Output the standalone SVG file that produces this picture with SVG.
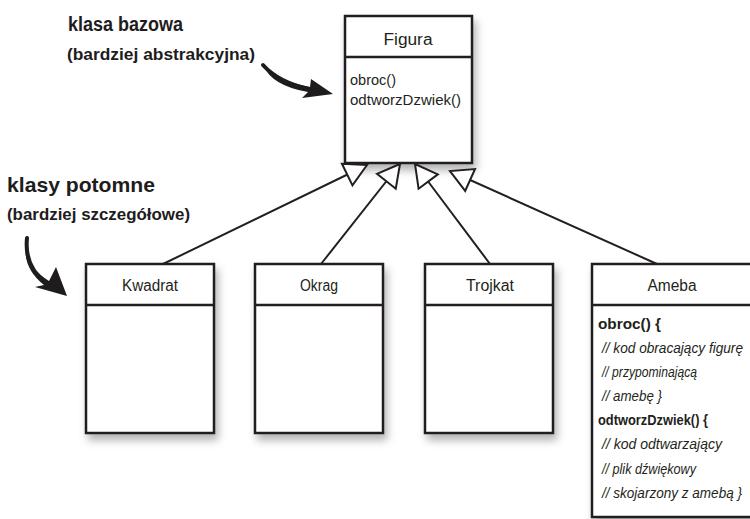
<svg xmlns="http://www.w3.org/2000/svg" width="750" height="519" viewBox="0 0 750 519">
<style>
.box{fill:#fff;stroke:#231f20;stroke-width:2.5}
.sep{stroke:#231f20;stroke-width:2.5}
.t{font-family:"Liberation Sans",Arial,sans-serif;fill:#231f20}
.title{font-size:16px;text-anchor:middle}
.m{font-size:15px}
.a{font-size:14px}
.b{font-weight:bold}
.i{font-style:italic}
.hand{font-family:"Liberation Sans",Arial,sans-serif;font-weight:bold;fill:#1e1c1d}
.conn{stroke:#231f20;stroke-width:2;fill:none}
.curl{stroke:#1e1c1d;fill:none;stroke-linecap:round}
</style>
<defs>
<filter id="sh" x="-20%" y="-20%" width="150%" height="150%">
<feDropShadow dx="3" dy="6" stdDeviation="4" flood-color="#000" flood-opacity="0.3"/>
</filter>
<marker id="tri" markerUnits="userSpaceOnUse" markerWidth="30" markerHeight="30" refX="22" refY="12" orient="auto" overflow="visible">
<path d="M0,0 L22,12 L0,24 Z" fill="#fff" stroke="#231f20" stroke-width="2" stroke-linejoin="miter"/>
</marker>
</defs>
<rect width="750" height="519" fill="#fff"/>

<g id="figura">
<rect class="box" x="345" y="16" width="127" height="147" filter="url(#sh)"/>
<line class="sep" x1="345" y1="57" x2="472" y2="57"/>
<text class="t title" x="408" y="45" textLength="49" lengthAdjust="spacingAndGlyphs">Figura</text>
<text class="t m" x="350" y="85" textLength="46" lengthAdjust="spacingAndGlyphs">obroc()</text>
<text class="t m" x="350" y="105" textLength="111" lengthAdjust="spacingAndGlyphs">odtworzDzwiek()</text>
</g>

<g id="kwadrat">
<rect class="box" x="86" y="264" width="128" height="169" filter="url(#sh)"/>
<line class="sep" x1="86" y1="305" x2="214" y2="305"/>
<text class="t title" x="150" y="291" textLength="56" lengthAdjust="spacingAndGlyphs">Kwadrat</text>
</g>

<g id="okrag">
<rect class="box" x="255" y="264" width="128" height="169" filter="url(#sh)"/>
<line class="sep" x1="255" y1="305" x2="383" y2="305"/>
<text class="t title" x="319" y="291" textLength="38" lengthAdjust="spacingAndGlyphs">Okrag</text>
</g>

<g id="trojkat">
<rect class="box" x="425" y="264" width="128" height="169" filter="url(#sh)"/>
<line class="sep" x1="425" y1="305" x2="553" y2="305"/>
<text class="t title" x="490" y="291" textLength="48" lengthAdjust="spacingAndGlyphs">Trojkat</text>
</g>

<g id="ameba">
<rect class="box" x="592" y="264" width="165" height="253" filter="url(#sh)"/>
<line class="sep" x1="592" y1="305" x2="757" y2="305"/>
<text class="t title" x="672" y="291" textLength="49" lengthAdjust="spacingAndGlyphs">Ameba</text>
<text class="t a b" x="598" y="329" textLength="63" lengthAdjust="spacingAndGlyphs">obroc() {</text>
<text class="t a i" x="602" y="353" textLength="141" lengthAdjust="spacingAndGlyphs">// kod obracający figurę</text>
<text class="t a i" x="602" y="377" textLength="95" lengthAdjust="spacingAndGlyphs">// przypominającą</text>
<text class="t a i" x="602" y="401" textLength="60" lengthAdjust="spacingAndGlyphs">// amebę }</text>
<text class="t a b" x="598" y="425" textLength="110" lengthAdjust="spacingAndGlyphs">odtworzDzwiek() {</text>
<text class="t a i" x="602" y="449" textLength="120" lengthAdjust="spacingAndGlyphs">// kod odtwarzający</text>
<text class="t a i" x="602" y="474" textLength="94" lengthAdjust="spacingAndGlyphs">// plik dźwiękowy</text>
<text class="t a i" x="602" y="498" textLength="140" lengthAdjust="spacingAndGlyphs">// skojarzony z amebą }</text>
</g>

<g id="connectors">
<line class="conn" x1="163" y1="264" x2="367" y2="165" marker-end="url(#tri)"/>
<line class="conn" x1="321" y1="264" x2="400" y2="164" marker-end="url(#tri)"/>
<line class="conn" x1="490" y1="264" x2="415" y2="164" marker-end="url(#tri)"/>
<line class="conn" x1="657" y1="264" x2="450" y2="171" marker-end="url(#tri)"/>
</g>

<g id="labels">
<text class="hand" x="68" y="31" font-size="20" textLength="115" lengthAdjust="spacingAndGlyphs">klasa bazowa</text>
<text class="hand" x="67" y="60" font-size="17" textLength="188" lengthAdjust="spacingAndGlyphs">(bardziej abstrakcyjna)</text>
<text class="hand" x="7" y="192" font-size="21" textLength="148" lengthAdjust="spacingAndGlyphs">klasy potomne</text>
<text class="hand" x="7" y="220" font-size="17" textLength="183" lengthAdjust="spacingAndGlyphs">(bardziej szczegółowe)</text>
</g>

<g id="curl-arrows">
<path d="M263,65 Q276,81 310,87 L311,79 L333,94 L302,98 L308,92 Q272,86 263,65 Z" fill="#1e1c1d"/>
<path class="curl" d="M263,65 Q278,82 309,89" stroke-width="4"/>
<path d="M27,238 Q24,266 49,281 L56,267 L67,296 L35,287 L44,285 Q20,266 27,238 Z" fill="#1e1c1d"/>
<path class="curl" d="M27,238 Q24,267 47,284" stroke-width="4"/>
</g>
</svg>
